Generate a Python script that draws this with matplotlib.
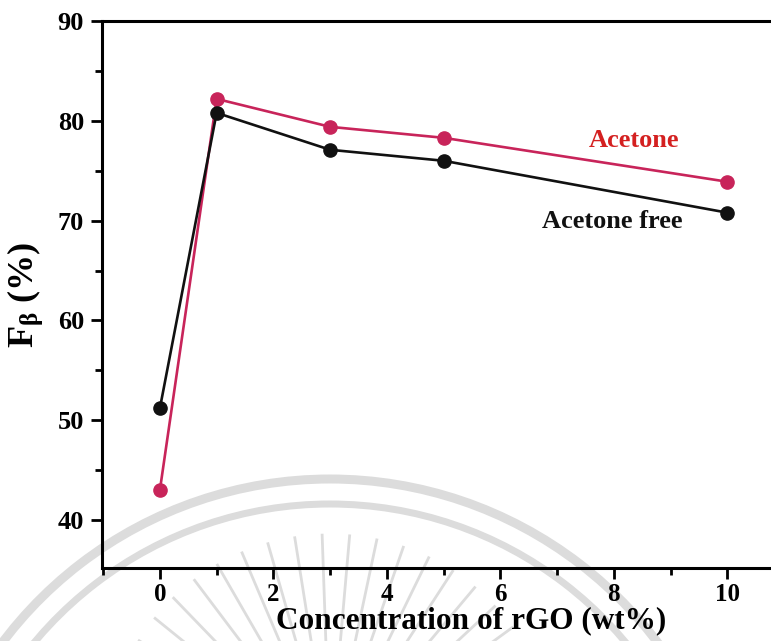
import matplotlib
matplotlib.use('Agg')
import matplotlib.pyplot as plt
import numpy as np
from matplotlib.patches import Arc
from matplotlib.lines import Line2D
from matplotlib.transforms import IdentityTransform
from matplotlib.ticker import MultipleLocator

plt.rcParams['font.family'] = ['Liberation Serif', 'DejaVu Serif']
plt.rcParams['font.weight'] = 'bold'
plt.rcParams['mathtext.fontset'] = 'custom'
plt.rcParams['mathtext.rm'] = 'Liberation Serif:bold'
plt.rcParams['mathtext.it'] = 'Liberation Serif:bold'
plt.rcParams['mathtext.bf'] = 'Liberation Serif:bold'

# data
rgo = [0, 1, 3, 5, 10]
acetone = [43.0, 82.2, 79.4, 78.3, 73.9]
acetone_free = [51.2, 80.8, 77.1, 76.0, 70.8]

W, H = 771, 641
fig = plt.figure(figsize=(W / 100, H / 100), dpi=100)

# faint watermark (arcs + fan of spokes) behind the chart, pixel coords
wm = '#dcdcdc'
cx, cy = 330, H - 889
for r, w in [(410, 9), (385, 7)]:
    fig.add_artist(Arc((cx, cy), 2 * r, 2 * r, theta1=15, theta2=165,
                       transform=IdentityTransform(), color=wm, lw=w * 0.72, zorder=0))
sx, sy = 330, H - 760
for a in np.arange(22, 160, 7):
    t = np.deg2rad(a)
    fig.add_artist(Line2D([sx + 110 * np.cos(t), sx + 225 * np.cos(t)],
                          [sy + 110 * np.sin(t), sy + 225 * np.sin(t)],
                          transform=IdentityTransform(), color=wm, lw=2, zorder=0))

ax = fig.add_axes([0.1323, 0.1139, 0.8846, 0.8533])
ax.patch.set_alpha(0)

ax.plot(rgo, acetone, color='#c8245a', lw=1.9, marker='o', ms=9.5, zorder=3)
ax.plot(rgo, acetone_free, color='#111111', lw=1.9, marker='o', ms=9.5, zorder=4)

ax.text(7.55, 77.4, 'Acetone', color='#d42020', fontsize=19, fontweight='bold')
ax.text(6.74, 69.3, 'Acetone free', color='#111111', fontsize=19, fontweight='bold')

ax.set_xlim(-1.02, 11)
ax.set_ylim(35.2, 90)
ax.xaxis.set_major_locator(MultipleLocator(2))
ax.xaxis.set_minor_locator(MultipleLocator(1))
ax.yaxis.set_major_locator(MultipleLocator(10))
ax.yaxis.set_minor_locator(MultipleLocator(5))
ax.tick_params(which='major', direction='out', length=8, width=2, labelsize=19, pad=5)
ax.tick_params(axis='x', which='major', pad=3, labelsize=18)
ax.tick_params(which='minor', direction='out', length=5, width=2)
for s in ax.spines.values():
    s.set_linewidth(2.2)

ax.set_xlabel('Concentration of rGO (wt%)', fontsize=22.5, fontweight='bold', labelpad=0)
ax.xaxis.set_label_coords(0.541, -0.070)
ax.set_ylabel(r'F$_\beta$ (%)', fontsize=26, fontweight='bold', labelpad=9)

fig.savefig('out.png', dpi=100)
